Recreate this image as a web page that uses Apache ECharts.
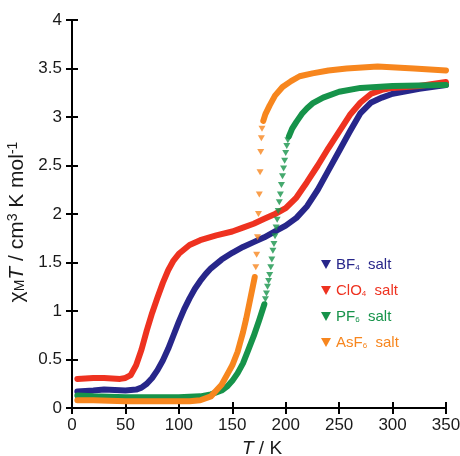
<!DOCTYPE html>
<html>
<head>
<meta charset="utf-8">
<script src="https://cdn.jsdelivr.net/npm/echarts@6/dist/echarts.min.js"></script>
<style>html,body{margin:0;padding:0;background:#fff}#c{width:460px;height:456px}</style>
</head>
<body>
<div id="c"></div>
<script>
// ---- data ----
const xTicks = [0, 50, 100, 150, 200, 250, 300, 350];
const yTicks = [0, 0.5, 1, 1.5, 2, 2.5, 3, 3.5, 4];

const bf4T = [5, 20, 30, 50, 60, 65, 70, 75, 80, 85, 90, 95, 100, 105, 110, 115, 120, 125, 130, 140, 150, 160, 170, 180, 190, 200, 210, 220, 230, 240, 250, 260, 270, 280, 290, 300, 325, 350];
const bf4V = [0.17, 0.18, 0.19, 0.18, 0.19, 0.21, 0.25, 0.31, 0.39, 0.49, 0.61, 0.75, 0.89, 1.02, 1.13, 1.23, 1.31, 1.38, 1.44, 1.53, 1.60, 1.66, 1.71, 1.76, 1.82, 1.88, 1.96, 2.08, 2.25, 2.45, 2.65, 2.85, 3.04, 3.15, 3.20, 3.24, 3.29, 3.33];

const clo4T = [5, 20, 30, 45, 50, 55, 60, 65, 70, 75, 80, 85, 90, 95, 100, 110, 120, 135, 150, 160, 170, 180, 190, 200, 210, 220, 230, 240, 250, 260, 270, 280, 290, 300, 325, 350];
const clo4V = [0.30, 0.31, 0.31, 0.30, 0.31, 0.34, 0.44, 0.60, 0.80, 0.98, 1.14, 1.29, 1.42, 1.52, 1.59, 1.68, 1.73, 1.78, 1.82, 1.86, 1.90, 1.95, 2.00, 2.06, 2.17, 2.33, 2.50, 2.68, 2.85, 3.02, 3.15, 3.24, 3.28, 3.30, 3.32, 3.36];

const pf6T = [5, 20, 50, 100, 120, 130, 140, 145, 150, 155, 160, 165, 170, 175, 180];
const pf6V = [0.13, 0.12, 0.11, 0.11, 0.12, 0.14, 0.18, 0.22, 0.28, 0.36, 0.46, 0.60, 0.74, 0.90, 1.07];
const pf6JumpT = [181, 182, 183, 184, 185, 186, 187, 188, 189, 190, 191, 192, 193, 194, 195, 196, 197, 198, 199, 200, 201, 202];
const pf6JumpV = [1.12, 1.18, 1.25, 1.31, 1.37, 1.45, 1.53, 1.62, 1.69, 1.77, 1.86, 1.94, 2.03, 2.12, 2.20, 2.30, 2.39, 2.47, 2.55, 2.63, 2.70, 2.76];
const pf6HighT = [203, 206, 210, 215, 220, 225, 235, 250, 270, 300, 350];
const pf6HighV = [2.80, 2.88, 2.95, 3.03, 3.09, 3.14, 3.20, 3.26, 3.30, 3.32, 3.33];

const asf6T = [5, 20, 50, 80, 110, 120, 130, 135, 140, 147, 150, 155, 157, 160, 163, 166, 169, 171];
const asf6V = [0.08, 0.08, 0.07, 0.07, 0.07, 0.08, 0.12, 0.18, 0.24, 0.38, 0.44, 0.58, 0.66, 0.78, 0.92, 1.08, 1.24, 1.35];
const asf6JumpT = [172.0, 172.8, 173.6, 174.5, 175.3, 176.0, 176.6, 177.2, 177.8];
const asf6JumpV = [1.45, 1.58, 1.76, 2.00, 2.20, 2.43, 2.64, 2.78, 2.88];
const asf6HighT = [179, 181, 185, 190, 197, 205, 213, 225, 240, 257, 286, 320, 350];
const asf6HighV = [2.96, 3.03, 3.12, 3.22, 3.31, 3.37, 3.42, 3.45, 3.48, 3.50, 3.52, 3.50, 3.48];

const names = ['BF4', 'ClO4', 'PF6', 'AsF6'];
const colors = { BF4: '#27268a', ClO4: '#ee3220', PF6: '#16934a', AsF6: '#f7861e' };
const legendParts = { BF4: ['BF', '4'], ClO4: ['ClO', '4'], PF6: ['PF', '6'], AsF6: ['AsF', '6'] };

// ---- build ----
const zip = (t, v) => t.map((x, i) => [x, v[i]]);
const tri = 'path://M0,0L10,0L5,9Z';
const FONT = 'Liberation Sans, Arial, sans-serif';

function lineSeries(name, t, v) {
  return {
    name: name, type: 'line', data: zip(t, v), smooth: false,
    showSymbol: false, symbol: tri, symbolSize: [7, 6],
    lineStyle: { color: colors[name], width: 6, cap: 'round', join: 'round' },
    itemStyle: { color: colors[name] }, z: 3
  };
}
function pointSeries(name, t, v) {
  return {
    name: name, type: 'scatter', data: zip(t, v), symbol: tri, symbolSize: [7, 6],
    itemStyle: { color: colors[name] }, z: 3
  };
}

const series = [
  lineSeries('BF4', bf4T, bf4V),
  lineSeries('ClO4', clo4T, clo4V),
  lineSeries('PF6', pf6T, pf6V),
  pointSeries('PF6', pf6JumpT, pf6JumpV),
  lineSeries('PF6', pf6HighT, pf6HighV),
  lineSeries('AsF6', asf6T, asf6V),
  pointSeries('AsF6', asf6JumpT, asf6JumpV),
  lineSeries('AsF6', asf6HighT, asf6HighV)
];

const axisCommon = {
  axisLine: { lineStyle: { color: '#000', width: 2 } },
  axisTick: { inside: true, length: 6, lineStyle: { color: '#000', width: 2 } },
  splitLine: { show: false }
};
const labelStyle = { color: '#1a1a1a', fontSize: 17, fontFamily: FONT };

const chart = echarts.init(document.getElementById('c'), null, { renderer: 'canvas' });
chart.setOption({
  animation: false,
  backgroundColor: '#fff',
  grid: { left: 72, right: 14, top: 20, bottom: 48, containLabel: false, outerBoundsMode: 'none' },
  xAxis: [
    Object.assign({
      type: 'value', min: 0, max: 350, interval: 50, position: 'bottom',
      axisLabel: Object.assign({ margin: 9 }, labelStyle),
      name: '{i|T} / K', nameLocation: 'middle', nameGap: 29,
      nameTextStyle: { fontSize: 19, color: '#1a1a1a', fontFamily: FONT, padding: [0, 0, 0, 6],
        rich: { i: { fontStyle: 'italic', fontSize: 19, color: '#1a1a1a', fontFamily: FONT } } }
    }, axisCommon),
    Object.assign({
      type: 'value', min: 0, max: 350, interval: 50, position: 'top',
      axisLabel: { show: false }
    }, axisCommon)
  ],
  yAxis: [
    Object.assign({
      type: 'value', min: 0, max: 4, interval: 0.5, position: 'left',
      axisLabel: Object.assign({ margin: 10 }, labelStyle),
      name: '{t|χ}{sub|M}{i|T}{t| / cm}{sup|3}{t| K mol}{sup|-1}', nameLocation: 'middle', nameGap: 39, nameRotate: 90,
      nameTextStyle: {
        fontSize: 21, color: '#1a1a1a', fontFamily: FONT, padding: [0, 16, 0, 0],
        rich: {
          t: { fontSize: 21, color: '#1a1a1a', fontFamily: FONT },
          i: { fontSize: 21, fontStyle: 'italic', color: '#1a1a1a', fontFamily: FONT },
          sub: { fontSize: 14, color: '#1a1a1a', verticalAlign: 'bottom', padding: [7, 0, 0, 0], fontFamily: FONT },
          sup: { fontSize: 14, color: '#1a1a1a', verticalAlign: 'top', padding: [0, 0, 7, 0], fontFamily: FONT }
        }
      }
    }, axisCommon),
    Object.assign({
      type: 'value', min: 0, max: 4, interval: 0.5, position: 'right',
      axisLabel: { show: false }
    }, axisCommon)
  ],
  legend: {
    orient: 'vertical', left: 316, top: 252, itemWidth: 10, itemHeight: 9, itemGap: 11,
    icon: tri,
    data: names.map(n => ({
      name: n,
      textStyle: {
        color: colors[n],
        rich: {
          a: { color: colors[n], fontSize: 15, fontFamily: FONT },
          s: { color: colors[n], fontSize: 8, verticalAlign: 'bottom', padding: [6, 0, 0, 0], fontFamily: FONT }
        }
      }
    })),
    formatter: n => '{a|' + legendParts[n][0] + '}{s|' + legendParts[n][1] + '}{a|  salt}'
  },
  series: series
});
</script>
</body>
</html>
